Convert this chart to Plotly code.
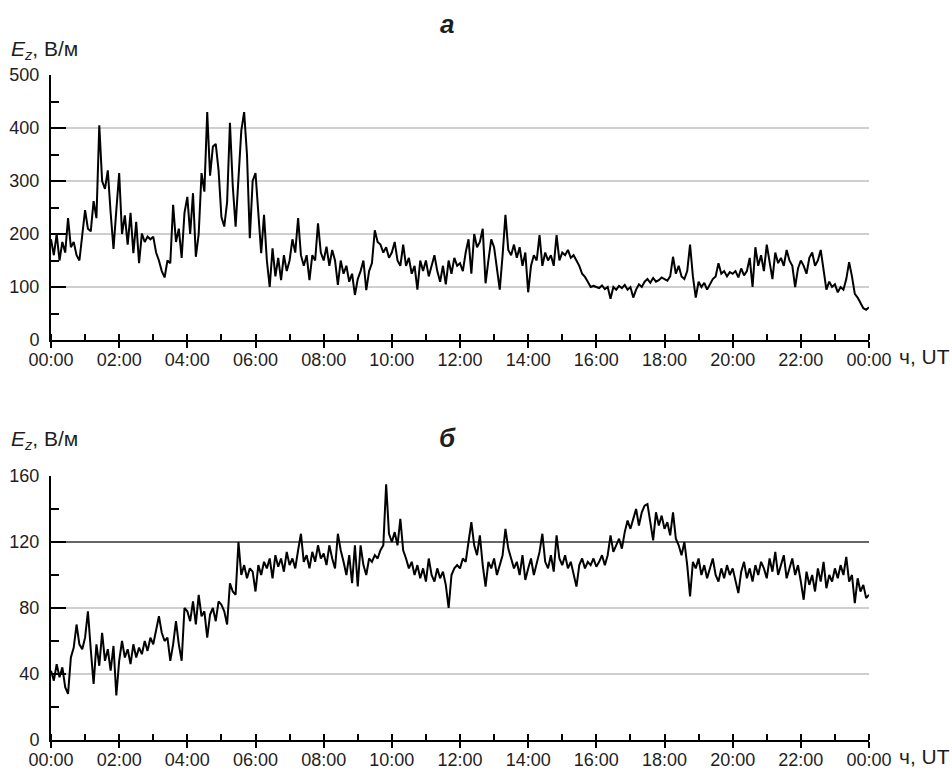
import plotly.graph_objects as go

# ---- data: 5-minute samples, 00:00 .. 24:00 ----
STEP_MIN = 5

ez_a = [
    190, 160, 200, 150, 185, 165, 230, 175, 185, 160, 150, 200,
    245, 210, 205, 262, 230, 405, 300, 285, 320, 240, 172, 245,
    315, 200, 235, 180, 240, 164, 223, 145, 201, 185, 195, 190,
    195, 165, 150, 130, 118, 150, 145, 255, 185, 210, 155, 240,
    270, 200, 277, 157, 200, 315, 280, 430, 310, 365, 370, 320,
    232, 214, 260, 410, 290, 214, 300, 395, 430, 350, 192, 300,
    315, 240, 164, 236, 150, 100, 173, 120, 155, 113, 160, 130,
    150, 190, 165, 230, 160, 140, 160, 113, 160, 150, 220, 165,
    150, 176, 140, 170, 150, 104, 150, 125, 140, 110, 125, 85,
    115, 130, 150, 94, 130, 145, 207, 185, 180, 165, 175, 155,
    165, 185, 150, 140, 180, 140, 155, 125, 140, 95, 150, 130,
    150, 120, 140, 160, 130, 110, 140, 105, 150, 125, 155, 140,
    145, 130, 165, 190, 125, 200, 175, 185, 210, 107, 150, 190,
    175, 130, 95, 160, 236, 170, 160, 180, 155, 175, 140, 165,
    90, 140, 160, 150, 198, 140, 165, 150, 160, 140, 198, 150,
    165, 160, 170, 155, 160, 150, 140, 125, 119, 110, 100, 102,
    100, 98, 103, 96, 100, 78, 100, 95, 102, 98, 104, 95,
    100, 80, 95, 105, 100, 110, 115, 108, 117, 110, 113, 118,
    115, 112, 120, 157, 125, 140, 120, 115, 130, 180, 120, 80,
    110, 100, 108, 95, 105, 115, 120, 145, 125, 130, 120, 128,
    125, 130, 118, 135, 122, 130, 155, 100, 175, 140, 160, 130,
    180, 150, 115, 165, 145, 155, 140, 170, 150, 140, 100, 135,
    150, 140, 125, 155, 165, 140, 150, 170, 135, 95, 110, 100,
    105, 90, 100, 95, 115, 147, 120, 87, 80, 70, 60, 57,
    62,
]

ez_b = [
    42, 36, 46, 38, 44, 32, 28, 50, 56, 70, 58, 55,
    62, 78, 55, 34, 58, 45, 65, 48, 55, 42, 57, 27,
    48, 60, 50, 55, 46, 58, 50, 56, 52, 60, 54, 62,
    58, 66, 75, 65, 60, 62, 48, 58, 72, 58, 48, 80,
    78, 72, 84, 70, 88, 75, 78, 62, 76, 80, 72, 84,
    82, 78, 70, 95, 90, 88, 120, 100, 106, 98, 104, 102,
    90, 106, 100, 108, 104, 110, 98, 112, 105, 110, 102, 114,
    106, 110, 104, 115, 125, 108, 112, 104, 114, 108, 118, 110,
    113, 106, 118, 110, 104, 125, 115, 108, 100, 112, 95, 118,
    93, 118, 106, 100, 110, 108, 112, 110, 115, 118, 155, 125,
    120, 126, 118, 134, 115, 110, 104, 108, 100, 106, 98, 104,
    96, 110, 100, 96, 104, 98, 102, 94, 80, 100, 104, 106,
    104, 110, 108, 120, 132, 118, 112, 124, 106, 93, 108, 104,
    110, 100, 106, 112, 128, 116, 110, 104, 108, 100, 112, 97,
    104, 110, 100, 108, 114, 125, 108, 104, 112, 102, 124, 110,
    106, 112, 104, 108, 100, 93, 106, 110, 104, 108, 106, 110,
    105, 108, 112, 106, 112, 124, 114, 118, 122, 116, 126, 133,
    128, 134, 140, 130, 138, 142, 143, 132, 121, 138, 130, 136,
    128, 132, 124, 138, 122, 118, 112, 120, 106, 87, 108, 104,
    110, 100, 106, 98, 104, 110, 100, 96, 104, 98, 106, 100,
    104, 96, 89, 102, 108, 98, 104, 96, 106, 100, 108, 104,
    98, 110, 102, 114, 100, 106, 112, 98, 104, 110, 100, 106,
    96, 85, 102, 94, 100, 90, 104, 96, 108, 92, 100, 96,
    104, 98, 106, 100, 111, 96, 100, 83, 98, 90, 94, 86,
    88,
]

hours = [i * STEP_MIN / 60 for i in range(len(ez_a))]
tick_hours = list(range(0, 25, 2))
tick_text = ["00:00", "02:00", "04:00", "06:00", "08:00", "10:00", "12:00",
             "14:00", "16:00", "18:00", "20:00", "22:00", "00:00"]
y_ticks_a = [0, 100, 200, 300, 400, 500]
y_ticks_b = [0, 40, 80, 120, 160]
REF_LINE_B = 120

W, H = 952, 771
FONT = "Liberation Sans, Arial, sans-serif"
TXT = "#1e1e1e"

fig = go.Figure()
fig.add_trace(go.Scatter(x=hours, y=ez_a, mode="lines",
                         line=dict(color="black", width=2),
                         xaxis="x", yaxis="y", showlegend=False))
fig.add_trace(go.Scatter(x=hours, y=ez_b, mode="lines",
                         line=dict(color="black", width=2),
                         xaxis="x2", yaxis="y2", showlegend=False))

def xaxis(domain, anchor):
    return dict(domain=domain, anchor=anchor, range=[0, 24], automargin=False,
                tickmode="array", tickvals=tick_hours, ticktext=tick_text,
                ticks="outside", ticklen=6, tickwidth=2, tickcolor="black",
                showline=True, linecolor="black", linewidth=2, layer="above traces",
                showgrid=False, zeroline=False, ticklabelstandoff=-4,
                tickfont=dict(family=FONT, size=18, color=TXT),
                minor=dict(tickmode="linear", tick0=0, dtick=1, ticks="inside",
                           ticklen=6, tickwidth=2, tickcolor="black", showgrid=False))

def yaxis(domain, anchor, rng, vals, mdt):
    return dict(domain=domain, anchor=anchor, range=rng, automargin=False,
                tickmode="array", tickvals=vals,
                ticks="inside", ticklen=15, tickwidth=2, tickcolor="black",
                showline=True, linecolor="black", linewidth=2, layer="above traces",
                showgrid=True, gridcolor="#cfcfcf", gridwidth=1.5,
                zeroline=False, ticklabelstandoff=6,
                tickfont=dict(family=FONT, size=18, color=TXT),
                minor=dict(tickmode="linear", tick0=0, dtick=mdt, ticks="inside",
                           ticklen=8, tickwidth=2, tickcolor="black", showgrid=False))

x0, x1 = 51 / W, 869 / W
fig.update_layout(
    width=W, height=H,
    margin=dict(l=0, r=0, t=0, b=0, autoexpand=False),
    paper_bgcolor="white", plot_bgcolor="white",
    xaxis=xaxis([x0, x1], "y"),
    yaxis=yaxis([1 - 340 / H, 1 - 75 / H], "x", [0, 500], y_ticks_a, 50),
    xaxis2=xaxis([x0, x1], "y2"),
    yaxis2=yaxis([1 - 740 / H, 1 - 476 / H], "x2", [0, 160], y_ticks_b, 20),
)

fig.add_shape(type="line", xref="x2 domain", yref="y2", x0=0, x1=1,
              y0=REF_LINE_B, y1=REF_LINE_B, line=dict(color="black", width=1.2))

def ann(text, px, py, size, xanchor="left"):
    fig.add_annotation(text=text, xref="paper", yref="paper",
                       x=px / W, y=1 - py / H, xanchor=xanchor, yanchor="middle",
                       showarrow=False, font=dict(family=FONT, size=size, color=TXT))

ann("<b><i>а</i></b>", 447, 24, 26, "center")
ann("<b><i>б</i></b>", 447, 438, 26, "center")
ann("<i>E<sub>z</sub></i>, В/м", 9, 50, 21)
ann("<i>E<sub>z</sub></i>, В/м", 9, 440, 21)
ann("ч, UT", 897, 356, 21)
ann("ч, UT", 897, 756, 21)

fig.write_html("out.html")
